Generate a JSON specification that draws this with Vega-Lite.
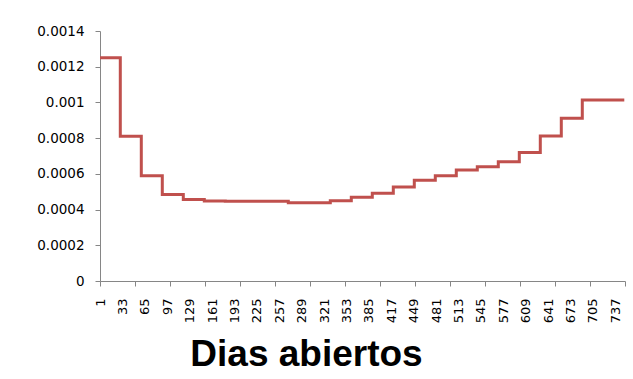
{
  "$schema": "https://vega.github.io/schema/vega-lite/v6.json",
  "autosize": "none",
  "width": 525,
  "height": 250,
  "padding": {"left": 100, "top": 31, "right": 8, "bottom": 98},
  "background": "white",
  "config": {"view": {"stroke": null}, "axis": {"grid": false}},
  "data": {"values": [
    {"dia": 1, "valor": 0.00125},
    {"dia": 30, "valor": 0.00081},
    {"dia": 60, "valor": 0.00059},
    {"dia": 90, "valor": 0.000485},
    {"dia": 120, "valor": 0.000456},
    {"dia": 150, "valor": 0.000448},
    {"dia": 180, "valor": 0.000447},
    {"dia": 210, "valor": 0.000447},
    {"dia": 240, "valor": 0.000446},
    {"dia": 270, "valor": 0.000438},
    {"dia": 300, "valor": 0.000438},
    {"dia": 330, "valor": 0.00045},
    {"dia": 360, "valor": 0.000469},
    {"dia": 390, "valor": 0.000491},
    {"dia": 420, "valor": 0.000526},
    {"dia": 450, "valor": 0.000564},
    {"dia": 480, "valor": 0.00059},
    {"dia": 510, "valor": 0.000622},
    {"dia": 540, "valor": 0.00064},
    {"dia": 570, "valor": 0.000668},
    {"dia": 600, "valor": 0.000719},
    {"dia": 630, "valor": 0.000812},
    {"dia": 660, "valor": 0.000911},
    {"dia": 690, "valor": 0.001014},
    {"dia": 750, "valor": 0.001014}
  ]},
  "mark": {"type": "line", "interpolate": "step-after", "color": "#C0504D", "strokeWidth": 3, "clip": false},
  "encoding": {
    "x": {
      "field": "dia",
      "type": "quantitative",
      "scale": {"domain": [1, 751], "nice": false, "zero": false},
      "axis": {
        "values": [1, 33, 51, 65, 97, 101, 129, 151, 161, 193, 201, 225, 251, 257, 289, 301, 321, 351, 353, 385, 401, 417, 449, 451, 481, 501, 513, 545, 551, 577, 601, 609, 641, 651, 673, 701, 705, 737, 751],
        "labelExpr": "((datum.value - 1) % 32 == 0 && datum.value <= 737) ? datum.value + '' : ''",
        "tickOpacity": {"condition": {"test": "(datum.value - 1) % 50 == 0", "value": 1}, "value": 0},
        "labelAngle": -90,
        "labelAlign": "right",
        "labelBaseline": "middle",
        "labelOverlap": false,
        "labelBound": false,
        "labelFlush": false,
        "labelFont": "DejaVu Sans",
        "labelFontSize": 13,
        "labelColor": "#000000",
        "labelPadding": 12,
        "tickSize": 5,
        "tickColor": "#868686",
        "domainColor": "#868686",
        "title": "Dias abiertos",
        "titleFont": "Liberation Sans",
        "titleFontSize": 37,
        "titleFontWeight": "bold",
        "titleColor": "#000000",
        "titleAnchor": null,
        "titleAlign": "center",
        "titleBaseline": "alphabetic",
        "titleX": 206,
        "titleY": 84
      }
    },
    "y": {
      "field": "valor",
      "type": "quantitative",
      "scale": {"domain": [0, 0.0014], "nice": false},
      "axis": {
        "values": [0, 0.0002, 0.0004, 0.0006, 0.0008, 0.001, 0.0012, 0.0014],
        "format": "~g",
        "labelFont": "DejaVu Sans",
        "labelFontSize": 13.5,
        "labelColor": "#000000",
        "labelPadding": 11,
        "tickSize": 5,
        "tickColor": "#868686",
        "domainColor": "#868686",
        "title": null
      }
    }
  }
}
